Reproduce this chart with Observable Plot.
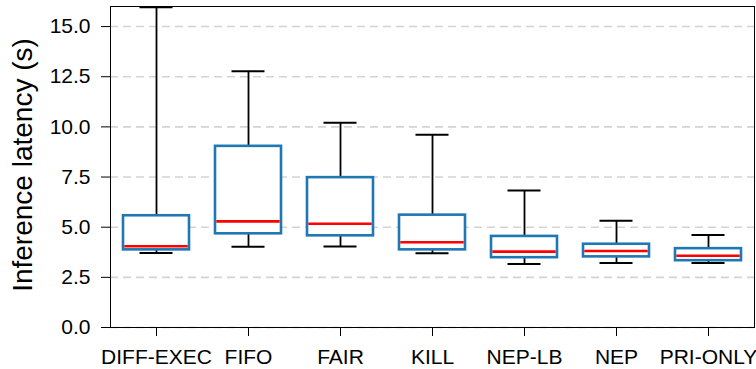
<!DOCTYPE html>
<html>
<head>
<meta charset="utf-8">
<script src="https://cdn.jsdelivr.net/npm/d3@7"></script>
<script src="https://cdn.jsdelivr.net/npm/@observablehq/plot@0.6"></script>
<style>
  html, body { margin: 0; padding: 0; background: #fff; }
</style>
</head>
<body>
<div id="chart"></div>
<script>
// Scheduling policies compared
const categories = ["DIFF-EXEC", "FIFO", "FAIR", "KILL", "NEP-LB", "NEP", "PRI-ONLY"];
// Box-plot summary statistics of inference latency (seconds)
const whiskerLow = [3.71, 4.03, 4.04, 3.70, 3.17, 3.21, 3.21];
const quartile1  = [3.87, 4.67, 4.57, 3.87, 3.48, 3.52, 3.33];
const medians    = [4.05, 5.29, 5.17, 4.25, 3.78, 3.81, 3.58];
const quartile3  = [5.57, 9.03, 7.47, 5.60, 4.54, 4.15, 3.93];
const whiskerHigh = [15.96, 12.77, 10.21, 9.61, 6.83, 5.32, 4.61];
// y-axis tick values
const yTicks = [0, 2.5, 5, 7.5, 10, 12.5, 15];
const yLabel = "Inference latency (s)";

const stats = categories.map((name, i) => ({
  name,
  lo: whiskerLow[i],
  q1: quartile1[i],
  med: medians[i],
  q3: quartile3[i],
  hi: whiskerHigh[i]
}));

const chart = Plot.plot({
  width: 756,
  height: 369,
  marginLeft: 110,
  marginRight: 2,
  marginTop: 6,
  marginBottom: 42,
  style: {
    fontFamily: "'Liberation Sans', Arial, Helvetica, sans-serif",
    fontSize: "21px",
    color: "black",
    background: "white"
  },
  x: {
    domain: categories,
    paddingInner: 0.283,
    paddingOuter: 0.1415,
    label: null
  },
  y: {
    domain: [0, 16],
    label: null
  },
  marks: [
    Plot.ruleY(yTicks, {stroke: "#d3d3d3", strokeWidth: 1.6, strokeDasharray: "8,5"}),
    Plot.ruleX(stats, {x: "name", y1: "lo", y2: "hi", stroke: "black", strokeWidth: 1.8}),
    Plot.tickY(stats, {x: "name", y: "lo", stroke: "black", strokeWidth: 2, insetLeft: 16.5, insetRight: 16.5}),
    Plot.tickY(stats, {x: "name", y: "hi", stroke: "black", strokeWidth: 2, insetLeft: 16.5, insetRight: 16.5}),
    Plot.barY(stats, {x: "name", y1: "q1", y2: "q3", fill: "white", stroke: "#1f77b4", strokeWidth: 2.6}),
    Plot.tickY(stats, {x: "name", y: "med", stroke: "red", strokeWidth: 2.6, insetLeft: 1.3, insetRight: 1.3}),
    Plot.frame({stroke: "black", strokeWidth: 1}),
    Plot.axisY({ticks: yTicks, tickFormat: d3.format(".1f"), tickSize: 9, tickPadding: 11, label: null}),
    Plot.axisX({tickSize: 9, tickPadding: 13, label: null}),
    Plot.text([yLabel], {frameAnchor: "left", rotate: -90, dx: -87, dy: -2, textAnchor: "middle", lineAnchor: "middle", fontSize: 28, fill: "black"})
  ]
});

document.getElementById("chart").appendChild(chart);
</script>
</body>
</html>
